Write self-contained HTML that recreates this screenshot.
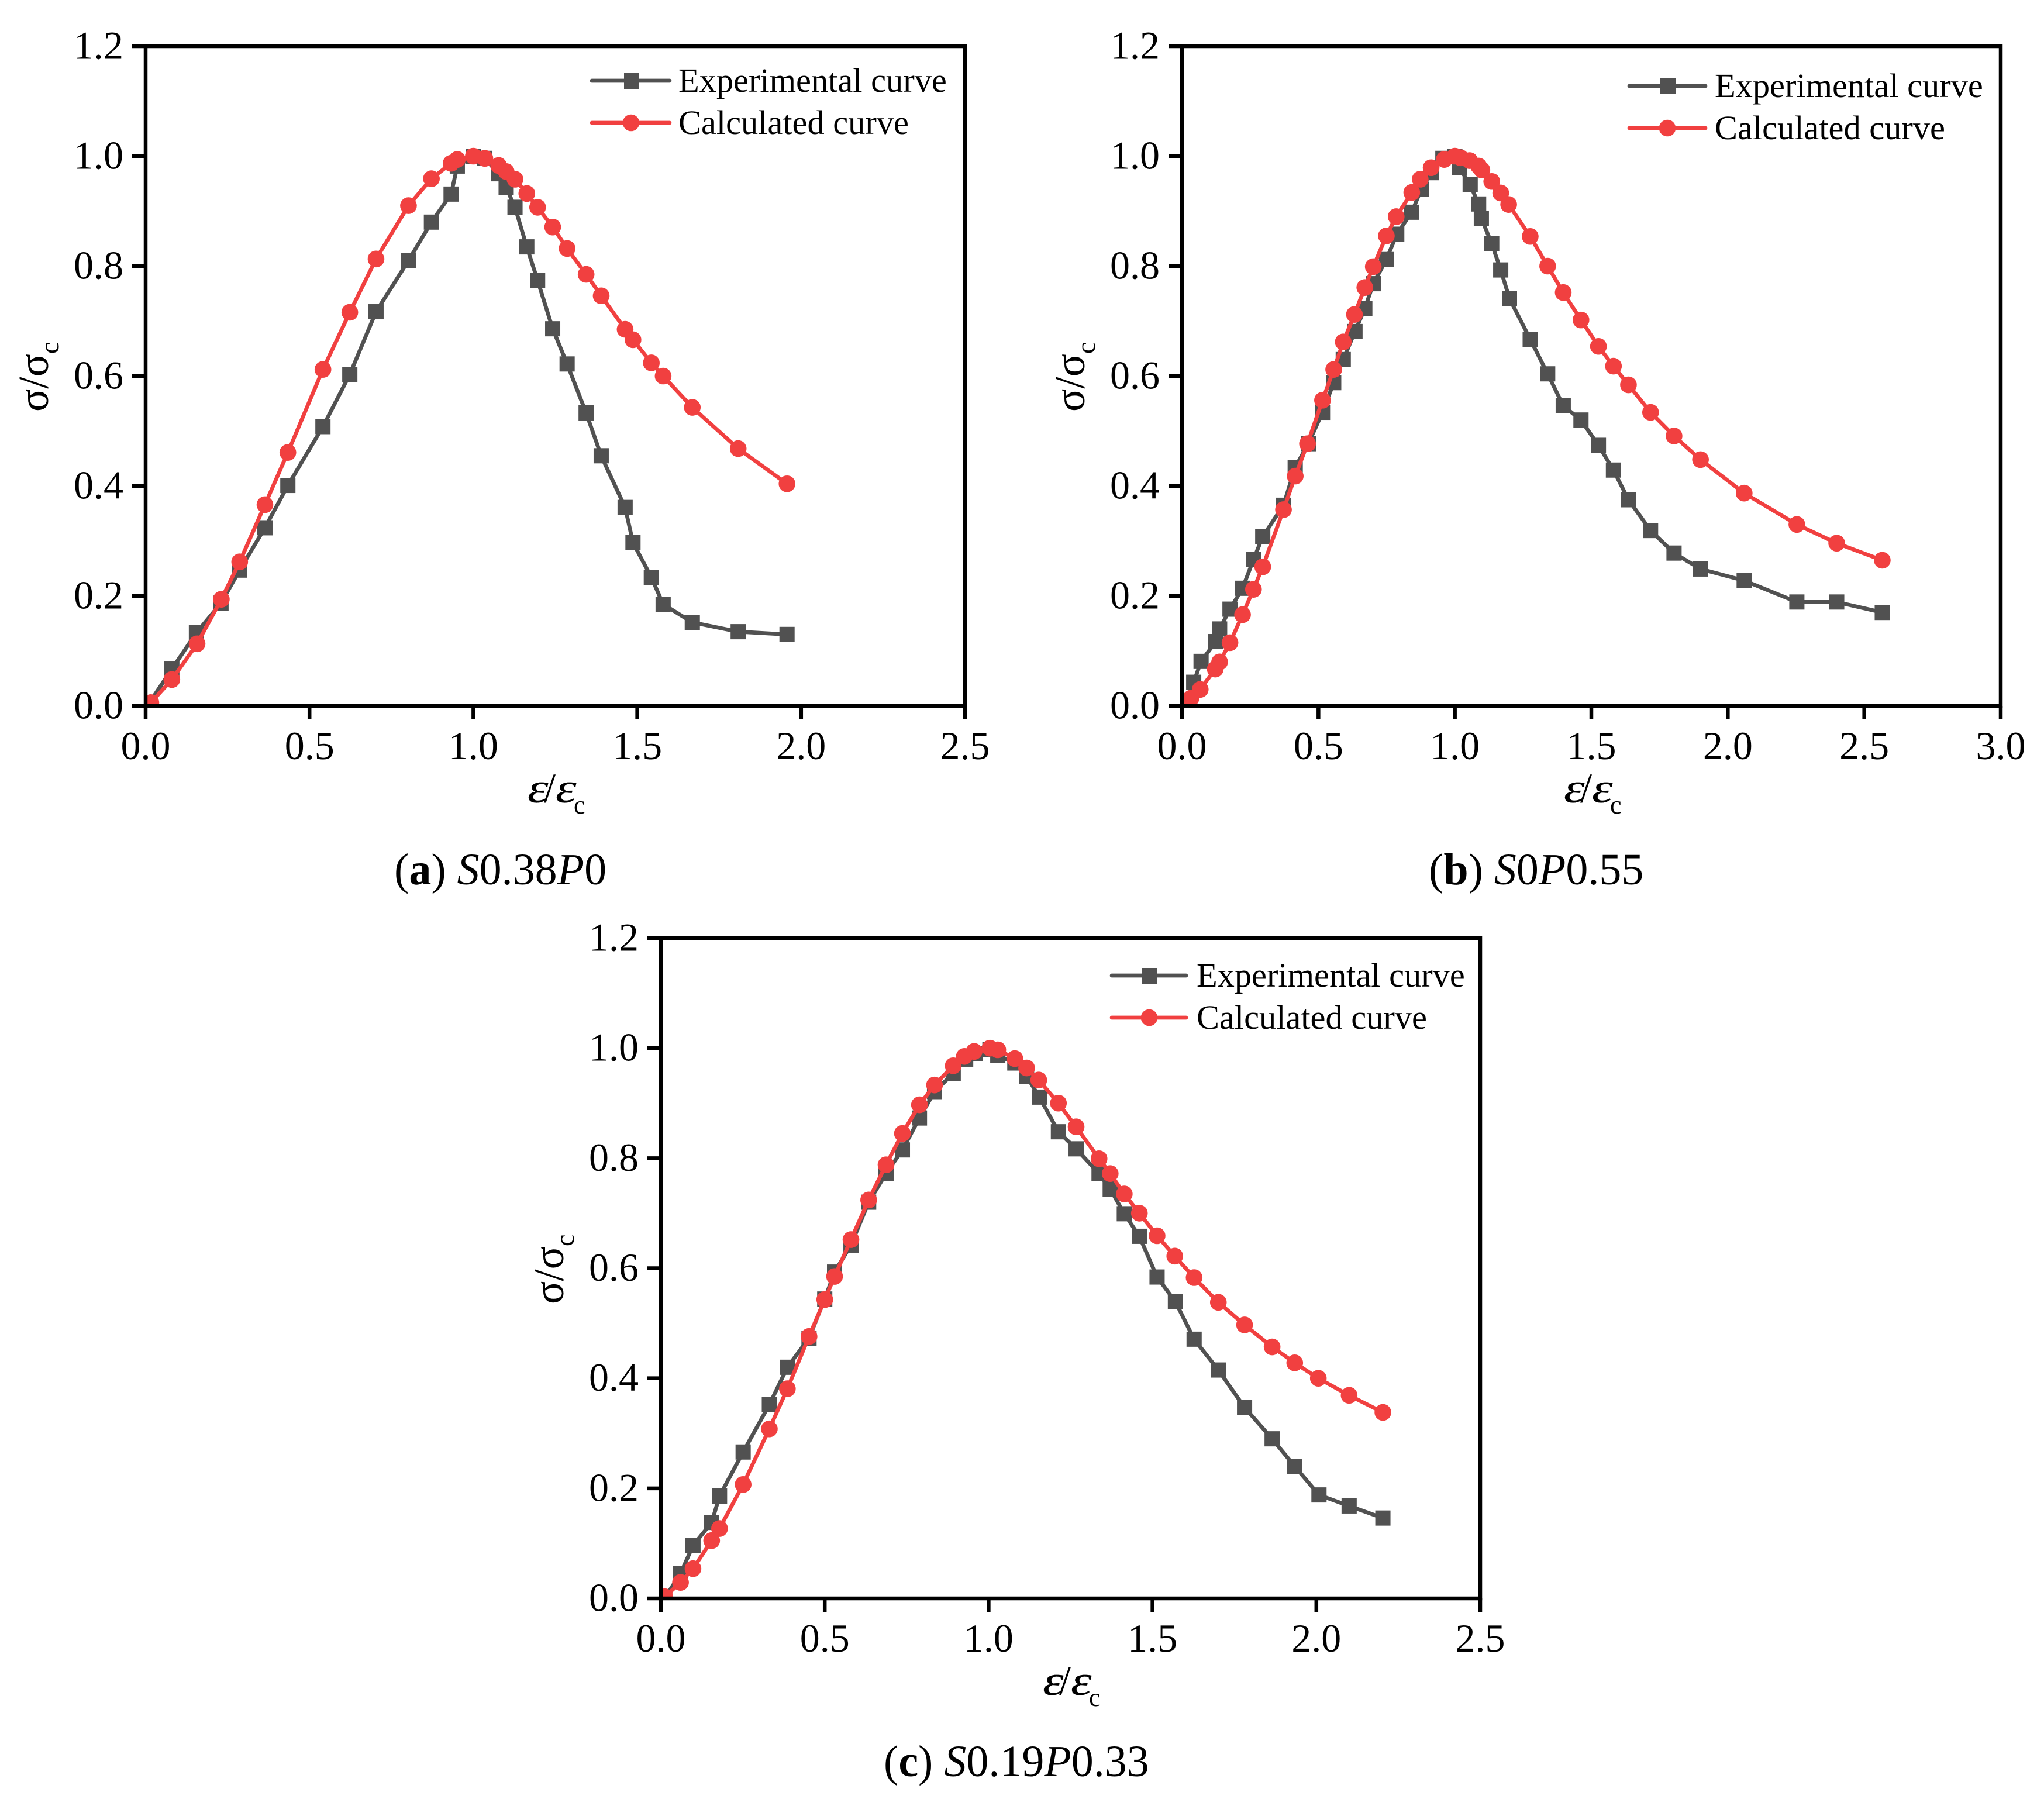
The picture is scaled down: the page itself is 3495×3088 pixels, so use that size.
<!DOCTYPE html>
<html lang="en">
<head>
<meta charset="utf-8">
<title>Stress-strain curves</title>
<style>
html,body{margin:0;padding:0;background:#fff;}
svg{display:block;}
text{font-family:"Liberation Serif","DejaVu Serif",serif;fill:#000;}
.tick{font-size:68px;}
.leg{font-size:58.4px;}
.cap{font-size:76px;}
.ax{font-size:73px;}
.sub{font-size:46px;}
.eps{font-size:72px;font-style:italic;stroke:#000;stroke-width:0.2px;}
.slash{font-size:72px;}
.csub{font-size:44px;}
</style>
</head>
<body>
<svg id="figure" xmlns="http://www.w3.org/2000/svg" width="3495" height="3088" viewBox="0 0 3495 3088">
<rect x="0" y="0" width="3495" height="3088" fill="#ffffff"/>

<g id="panel-a"></g>
<g id="panel-b"></g>
<g id="panel-c"></g>

<g>
  <text class="ax" transform="translate(82,704) rotate(-90)">σ/σ<tspan class="sub" dy="18">c</tspan></text>
  <g transform="translate(903,1372)">
    <text class="eps" transform="translate(-1,0) scale(1.25,1)">ε</text>
    <text class="slash" x="27">/</text>
    <text class="eps" transform="translate(47,0) scale(1.25,1)">ε</text>
    <text class="csub" x="78" y="19">c</text>
  </g>
  <text class="cap" x="674" y="1512">(<tspan font-weight="bold">a</tspan>) <tspan font-style="italic">S</tspan>0.38<tspan font-style="italic">P</tspan>0</text>
  <g>
    <line x1="1012" y1="138" x2="1145" y2="138" stroke="#515151" stroke-width="6.7" stroke-linecap="round"/>
    <rect x="1067" y="125" width="26" height="27" fill="#515151"/>
    <line x1="1012" y1="210" x2="1145" y2="210" stroke="#F14040" stroke-width="6.7" stroke-linecap="round"/>
    <circle cx="1079" cy="210" r="14.3" fill="#F14040"/>
    <text class="leg" x="1160" y="157">Experimental curve</text>
    <text class="leg" x="1160" y="229">Calculated curve</text>
  </g>
</g>

<g>
  <text class="ax" transform="translate(1854,704) rotate(-90)">σ/σ<tspan class="sub" dy="18">c</tspan></text>
  <g transform="translate(2675,1372)">
    <text class="eps" transform="translate(-1,0) scale(1.25,1)">ε</text>
    <text class="slash" x="27">/</text>
    <text class="eps" transform="translate(47,0) scale(1.25,1)">ε</text>
    <text class="csub" x="78" y="19">c</text>
  </g>
  <text class="cap" x="2443" y="1512">(<tspan font-weight="bold">b</tspan>) <tspan font-style="italic">S</tspan>0<tspan font-style="italic">P</tspan>0.55</text>
  <g>
    <line x1="2786" y1="147" x2="2916" y2="147" stroke="#515151" stroke-width="6.7" stroke-linecap="round"/>
    <rect x="2839" y="134" width="26" height="27" fill="#515151"/>
    <line x1="2786" y1="219" x2="2916" y2="219" stroke="#F14040" stroke-width="6.7" stroke-linecap="round"/>
    <circle cx="2851" cy="219" r="14.3" fill="#F14040"/>
    <text class="leg" x="2932" y="166">Experimental curve</text>
    <text class="leg" x="2932" y="238">Calculated curve</text>
  </g>
</g>

<g>
  <text class="ax" transform="translate(963,2230) rotate(-90)">σ/σ<tspan class="sub" dy="18">c</tspan></text>
  <g transform="translate(1784,2898)">
    <text class="eps" transform="translate(-1,0) scale(1.25,1)">ε</text>
    <text class="slash" x="27">/</text>
    <text class="eps" transform="translate(47,0) scale(1.25,1)">ε</text>
    <text class="csub" x="78" y="19">c</text>
  </g>
  <text class="cap" x="1511" y="3037">(<tspan font-weight="bold">c</tspan>) <tspan font-style="italic">S</tspan>0.19<tspan font-style="italic">P</tspan>0.33</text>
  <g>
    <line x1="1901" y1="1668" x2="2028" y2="1668" stroke="#515151" stroke-width="6.7" stroke-linecap="round"/>
    <rect x="1952" y="1655" width="26" height="27" fill="#515151"/>
    <line x1="1901" y1="1740" x2="2028" y2="1740" stroke="#F14040" stroke-width="6.7" stroke-linecap="round"/>
    <circle cx="1965" cy="1740" r="14.3" fill="#F14040"/>
    <text class="leg" x="2046" y="1687">Experimental curve</text>
    <text class="leg" x="2046" y="1759">Calculated curve</text>
  </g>
</g>
</svg>

<script>
const yTicks = ["0.0","0.2","0.4","0.6","0.8","1.0","1.2"];
const xTicksA = ["0.0","0.5","1.0","1.5","2.0","2.5"];
const xTicksB = ["0.0","0.5","1.0","1.5","2.0","2.5","3.0"];
const xTicksC = ["0.0","0.5","1.0","1.5","2.0","2.5"];

const aStrainExp = [0.012,0.08,0.155,0.23,0.287,0.364,0.434,0.541,0.623,0.703,0.802,0.872,0.932,0.951,1.0,1.035,1.077,1.10,1.127,1.163,1.196,1.242,1.286,1.344,1.39,1.463,1.487,1.543,1.579,1.668,1.808,1.957];
const aStressExp = [0.006,0.067,0.133,0.187,0.247,0.324,0.401,0.508,0.603,0.717,0.81,0.88,0.931,0.982,1.0,0.996,0.968,0.943,0.907,0.835,0.774,0.686,0.622,0.533,0.455,0.361,0.297,0.234,0.185,0.152,0.135,0.13];
const aStrainCalc = [0.016,0.08,0.157,0.231,0.287,0.364,0.434,0.541,0.623,0.703,0.802,0.872,0.932,0.951,1.0,1.035,1.077,1.10,1.127,1.163,1.196,1.242,1.286,1.344,1.39,1.463,1.487,1.543,1.579,1.668,1.808,1.957];
const aStressCalc = [0.006,0.048,0.113,0.194,0.262,0.366,0.461,0.612,0.716,0.813,0.91,0.959,0.987,0.994,1.0,0.996,0.983,0.972,0.958,0.932,0.907,0.871,0.832,0.785,0.746,0.685,0.666,0.624,0.6,0.543,0.468,0.404];

const bStrainExp = [0.015,0.043,0.07,0.124,0.138,0.176,0.222,0.262,0.296,0.372,0.415,0.463,0.515,0.556,0.591,0.634,0.67,0.701,0.749,0.787,0.842,0.877,0.913,0.956,1.0,1.016,1.056,1.087,1.097,1.135,1.168,1.2,1.276,1.34,1.397,1.462,1.526,1.581,1.636,1.717,1.803,1.9,2.06,2.253,2.399,2.566];
const bStressExp = [0.006,0.043,0.081,0.117,0.14,0.176,0.214,0.266,0.308,0.365,0.434,0.477,0.534,0.588,0.63,0.681,0.723,0.768,0.812,0.858,0.898,0.94,0.97,0.996,1.0,0.979,0.948,0.913,0.887,0.841,0.793,0.741,0.667,0.604,0.546,0.52,0.474,0.429,0.375,0.319,0.278,0.249,0.228,0.189,0.189,0.17];
const bStrainCalc = [0.01,0.033,0.067,0.122,0.138,0.176,0.222,0.262,0.296,0.372,0.415,0.46,0.515,0.556,0.591,0.632,0.67,0.701,0.749,0.785,0.842,0.873,0.913,0.961,1.0,1.021,1.054,1.087,1.099,1.135,1.168,1.197,1.276,1.34,1.397,1.462,1.526,1.581,1.636,1.717,1.803,1.9,2.06,2.253,2.399,2.566];
const bStressCalc = [0.005,0.014,0.03,0.067,0.08,0.115,0.166,0.212,0.253,0.357,0.418,0.477,0.556,0.612,0.662,0.712,0.761,0.799,0.855,0.89,0.934,0.958,0.979,0.994,1.0,0.997,0.992,0.982,0.975,0.954,0.933,0.912,0.854,0.8,0.752,0.702,0.654,0.618,0.584,0.534,0.491,0.448,0.387,0.33,0.296,0.265];

const cStrainExp = [0.012,0.06,0.098,0.155,0.179,0.251,0.331,0.386,0.452,0.5,0.53,0.58,0.634,0.687,0.737,0.789,0.835,0.892,0.93,0.96,1.004,1.028,1.08,1.116,1.155,1.213,1.267,1.337,1.371,1.414,1.46,1.514,1.57,1.627,1.701,1.781,1.865,1.934,2.008,2.1,2.203];
const cStressExp = [0.001,0.045,0.096,0.138,0.186,0.266,0.352,0.42,0.473,0.544,0.593,0.642,0.72,0.772,0.815,0.873,0.921,0.954,0.98,0.99,0.998,0.987,0.973,0.949,0.911,0.848,0.817,0.772,0.744,0.699,0.658,0.584,0.539,0.471,0.415,0.347,0.29,0.24,0.188,0.168,0.146];
const cStrainCalc = [0.012,0.06,0.098,0.155,0.179,0.251,0.331,0.386,0.452,0.5,0.53,0.58,0.634,0.687,0.737,0.789,0.835,0.892,0.926,0.956,1.004,1.028,1.08,1.116,1.153,1.213,1.267,1.337,1.371,1.414,1.46,1.514,1.568,1.627,1.701,1.781,1.865,1.934,2.006,2.1,2.203];
const cStressCalc = [0.003,0.029,0.054,0.105,0.127,0.207,0.308,0.381,0.476,0.543,0.585,0.652,0.724,0.788,0.845,0.897,0.933,0.968,0.985,0.994,1.0,0.997,0.981,0.964,0.942,0.9,0.857,0.799,0.772,0.735,0.7,0.659,0.622,0.583,0.538,0.497,0.457,0.428,0.4,0.369,0.338];

const SVG_NS = 'http://www.w3.org/2000/svg';
const GRAY = '#515151';
const RED = '#F14040';

function drawPanel(groupId, id, frame, xMax, yMax, xTicks, xE, yE, xC, yC) {
  const root = document.getElementById(groupId);
  const xScale = v => frame.left + (v / xMax) * (frame.right - frame.left);
  const yScale = v => frame.bottom - (v / yMax) * (frame.bottom - frame.top);

  const clip = document.createElementNS(SVG_NS, 'clipPath');
  clip.setAttribute('id', 'clip-' + id);
  const clipRect = document.createElementNS(SVG_NS, 'rect');
  clipRect.setAttribute('x', frame.left);
  clipRect.setAttribute('y', frame.top);
  clipRect.setAttribute('width', frame.right - frame.left);
  clipRect.setAttribute('height', frame.bottom - frame.top);
  clip.appendChild(clipRect);
  root.appendChild(clip);

  const plot = document.createElementNS(SVG_NS, 'g');
  plot.setAttribute('clip-path', 'url(#clip-' + id + ')');
  
  
  root.appendChild(plot);

  const gray = document.createElementNS(SVG_NS, 'polyline');
  gray.setAttribute('points', xE.map((v, i) => xScale(v) + ',' + yScale(yE[i])).join(' '));
  gray.setAttribute('fill', 'none');
  gray.setAttribute('stroke', GRAY);
  gray.setAttribute('stroke-width', '6.7');
  gray.setAttribute('stroke-linejoin', 'round');
  
  
  plot.appendChild(gray);

  xE.forEach((v, i) => {
    const s = document.createElementNS(SVG_NS, 'rect');
    s.setAttribute('x', xScale(v) - 13);
    s.setAttribute('y', yScale(yE[i]) - 13);
    s.setAttribute('width', 26);
    s.setAttribute('height', 26);
    s.setAttribute('fill', GRAY);
    
    
    plot.appendChild(s);
  });

  const red = document.createElementNS(SVG_NS, 'polyline');
  red.setAttribute('points', xC.map((v, i) => xScale(v) + ',' + yScale(yC[i])).join(' '));
  red.setAttribute('fill', 'none');
  red.setAttribute('stroke', RED);
  red.setAttribute('stroke-width', '6.7');
  red.setAttribute('stroke-linejoin', 'round');
  
  
  plot.appendChild(red);

  xC.forEach((v, i) => {
    const c = document.createElementNS(SVG_NS, 'circle');
    c.setAttribute('cx', xScale(v));
    c.setAttribute('cy', yScale(yC[i]));
    c.setAttribute('r', 14.3);
    c.setAttribute('fill', RED);
    
    
    plot.appendChild(c);
  });

  const box = document.createElementNS(SVG_NS, 'rect');
  box.setAttribute('x', frame.left);
  box.setAttribute('y', frame.top);
  box.setAttribute('width', frame.right - frame.left);
  box.setAttribute('height', frame.bottom - frame.top);
  box.setAttribute('fill', 'none');
  box.setAttribute('stroke', '#000');
  box.setAttribute('stroke-width', '6.5');
  
  
  root.appendChild(box);

  yTicks.forEach(label => {
    const yy = yScale(parseFloat(label));
    const t = document.createElementNS(SVG_NS, 'line');
    t.setAttribute('x1', frame.left - 23);
    t.setAttribute('x2', frame.left);
    t.setAttribute('y1', yy);
    t.setAttribute('y2', yy);
    t.setAttribute('stroke', '#000');
    t.setAttribute('stroke-width', '6.5');
    
    
    root.appendChild(t);
    const l = document.createElementNS(SVG_NS, 'text');
    l.setAttribute('class', 'tick');
    l.setAttribute('x', frame.left - 38);
    l.setAttribute('y', yy + 21.5);
    l.setAttribute('text-anchor', 'end');
    
    
    l.textContent = label;
    root.appendChild(l);
  });

  xTicks.forEach(label => {
    const xx = xScale(parseFloat(label));
    const t = document.createElementNS(SVG_NS, 'line');
    t.setAttribute('x1', xx);
    t.setAttribute('x2', xx);
    t.setAttribute('y1', frame.bottom);
    t.setAttribute('y2', frame.bottom + 23);
    t.setAttribute('stroke', '#000');
    t.setAttribute('stroke-width', '6.5');
    
    
    root.appendChild(t);
    const l = document.createElementNS(SVG_NS, 'text');
    l.setAttribute('class', 'tick');
    l.setAttribute('x', xx);
    l.setAttribute('y', frame.bottom + 91);
    l.setAttribute('text-anchor', 'middle');
    
    
    l.textContent = label;
    root.appendChild(l);
  });
}

drawPanel('panel-a', 'a', {left:249, right:1650, top:79, bottom:1207}, 2.5, 1.2, xTicksA, aStrainExp, aStressExp, aStrainCalc, aStressCalc);
drawPanel('panel-b', 'b', {left:2021, right:3421, top:79, bottom:1207}, 3.0, 1.2, xTicksB, bStrainExp, bStressExp, bStrainCalc, bStressCalc);
drawPanel('panel-c', 'c', {left:1130, right:2531, top:1604, bottom:2733}, 2.5, 1.2, xTicksC, cStrainExp, cStressExp, cStrainCalc, cStressCalc);
</script>
</body>
</html>
